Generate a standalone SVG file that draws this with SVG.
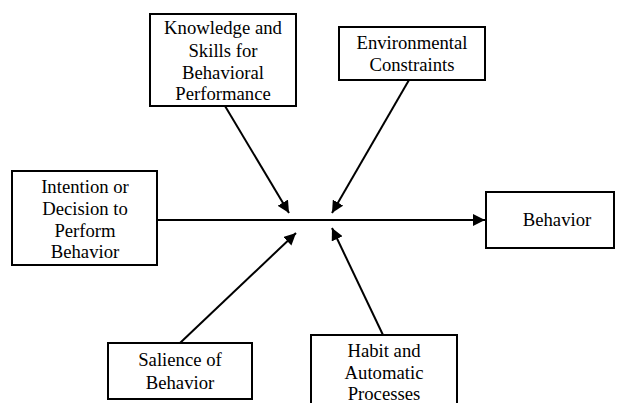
<svg xmlns="http://www.w3.org/2000/svg" width="619" height="403" viewBox="0 0 619 403">
<style>
.box{fill:#fff;stroke:#000;stroke-width:2}
.t{font-family:"Liberation Serif","Times New Roman",serif;font-size:18.7px;fill:#000;text-anchor:middle}
.c{stroke:#000;stroke-width:2;fill:none}
</style>
<defs>
<marker id="ah" viewBox="0 0 10 10" refX="10" refY="5" markerWidth="6" markerHeight="6" markerUnits="strokeWidth" orient="auto">
<path d="M0,0 L10,5 L0,10 z" fill="#000"/>
</marker>
</defs>
<rect width="619" height="403" fill="#fff"/>
<g id="connectors">
<line class="c" x1="157" y1="220" x2="485" y2="220" marker-end="url(#ah)"/>
<line class="c" x1="225" y1="106" x2="289" y2="213" marker-end="url(#ah)"/>
<line class="c" x1="409" y1="80" x2="332" y2="213" marker-end="url(#ah)"/>
<line class="c" x1="180" y1="343" x2="296" y2="233" marker-end="url(#ah)"/>
<line class="c" x1="383" y1="335" x2="332" y2="228" marker-end="url(#ah)"/>
</g>
<g id="knowledge">
<rect class="box" x="150" y="14" width="146" height="92"/>
<text class="t" x="223" y="34">Knowledge and</text>
<text class="t" x="223" y="57">Skills for</text>
<text class="t" x="223" y="79">Behavioral</text>
<text class="t" x="223" y="100">Performance</text>
</g>
<g id="environmental">
<rect class="box" x="339" y="27" width="146" height="53"/>
<text class="t" x="412" y="49">Environmental</text>
<text class="t" x="412" y="71">Constraints</text>
</g>
<g id="intention">
<rect class="box" x="12" y="171" width="145" height="94"/>
<text class="t" x="85" y="193">Intention or</text>
<text class="t" x="85" y="215">Decision to</text>
<text class="t" x="85" y="237">Perform</text>
<text class="t" x="85" y="258">Behavior</text>
</g>
<g id="behavior">
<rect class="box" x="486" y="192" width="128" height="56"/>
<text class="t" x="557" y="226">Behavior</text>
</g>
<g id="salience">
<rect class="box" x="108" y="343" width="144" height="56"/>
<text class="t" x="180" y="366">Salience of</text>
<text class="t" x="180" y="389">Behavior</text>
</g>
<g id="habit">
<rect class="box" x="311" y="335" width="146" height="80"/>
<text class="t" x="384" y="357">Habit and</text>
<text class="t" x="384" y="379">Automatic</text>
<text class="t" x="384" y="400">Processes</text>
</g>
</svg>
